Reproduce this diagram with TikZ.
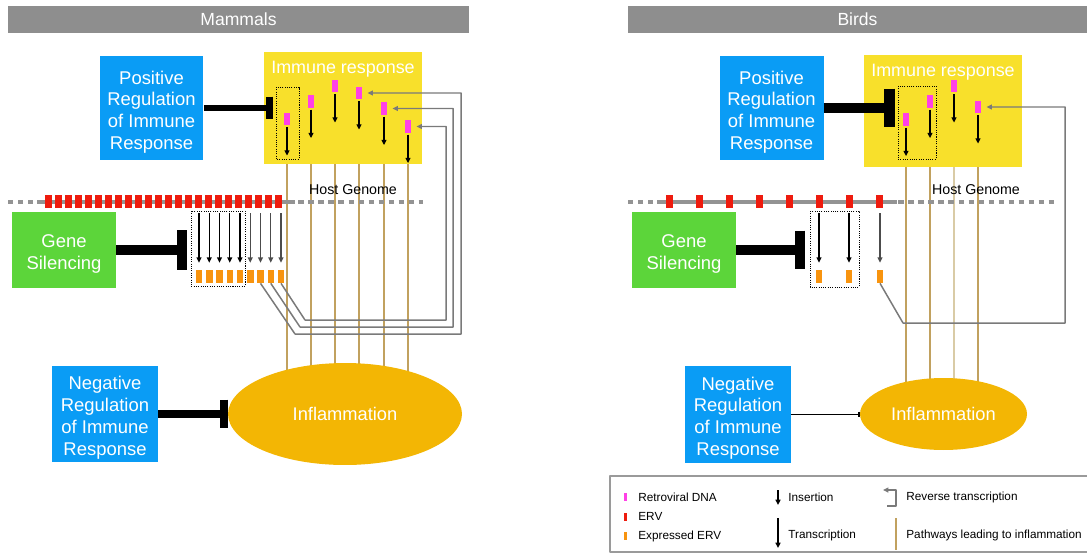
\documentclass[tikz,border=0pt]{standalone}
\usepackage{fontspec}
\setmainfont{Liberation Sans}
\usepackage{tikz}
\usetikzlibrary{arrows}
\usetikzlibrary{arrows.meta}
\usetikzlibrary{shapes.geometric}
\usetikzlibrary{backgrounds}
\usetikzlibrary{calc}

\definecolor{hdrgray}{HTML}{8E8E8E}
\definecolor{regblue}{HTML}{0A9CF5}
\definecolor{immyellow}{HTML}{F8E02B}
\definecolor{silgreen}{HTML}{5CD53A}
\definecolor{infgold}{HTML}{F3B604}
\definecolor{rvmagenta}{HTML}{FF40E6}
\definecolor{ervred}{HTML}{EE1B0E}
\definecolor{exporange}{HTML}{F8940F}
\definecolor{pathtan}{HTML}{C1A15F}
\definecolor{pathpale}{HTML}{D9CBA6}
\definecolor{rtgray}{HTML}{7A7A7A}
\definecolor{genomegray}{HTML}{939393}
\definecolor{lgdgray}{HTML}{9A9A9A}

\newcommand{\toplift}[1]{\rule{0pt}{#1}}

\begin{document}
\begin{tikzpicture}[line join=round,>={Triangle[length=3pt,width=2.8pt]},x=0.02cm,y=-0.02cm,
    hdr/.style={fill=hdrgray,text=white,inner sep=0pt,minimum height=0.54cm,font=\fontsize{10}{12}\selectfont},
    regbox/.style={fill=regblue,text=white,align=center,inner sep=0pt,minimum width=2.08cm,font=\fontsize{10.5}{12.5}\selectfont},
    silbox/.style={fill=silgreen,text=white,align=center,inner sep=0pt,minimum width=2.08cm,minimum height=1.52cm,font=\fontsize{10.5}{12.5}\selectfont},
    immbox/.style={fill=immyellow,inner sep=0pt,minimum width=3.16cm,minimum height=2.24cm},
    immtxt/.style={text=white,inner sep=0pt,font=\fontsize{10.2}{12}\selectfont},
    infl/.style={ellipse,fill=infgold,text=white,inner sep=0pt,font=\fontsize{10.4}{12}\selectfont},
    rv/.style={fill=rvmagenta,inner sep=0pt,minimum width=0.13cm,minimum height=0.25cm},
    erv/.style={fill=ervred,inner sep=0pt,minimum width=0.14cm,minimum height=0.26cm},
    xerv/.style={fill=exporange,inner sep=0pt,minimum width=0.13cm,minimum height=0.26cm},
    ins/.style={->,line width=0.75pt},
    trans/.style={->,line width=0.75pt},
    revt/.style={->,draw=rtgray,line width=0.85pt},
    pathw/.style={line width=0.85pt},
    genome/.style={draw=genomegray,line width=2.7pt},
    genomedash/.style={draw=genomegray,line width=2.7pt,dash pattern=on 3.1pt off 2.6pt},
    dotbox/.style={draw,line width=0.45pt,dash pattern=on 0.6pt off 0.7pt},
    txt/.style={inner sep=0pt,font=\fontsize{8.1}{10}\selectfont},
    lgd/.style={inner sep=0pt,anchor=west,font=\fontsize{6.7}{8}\selectfont}]
  \useasboundingbox (0,0) rectangle (1087,554);

  % headers
  \node[hdr,minimum width=9.22cm] (hdrL) at (238.5,19.5) {\raisebox{-0.4pt}{Mammals}};
  \node[hdr,minimum width=9.18cm] (hdrR) at (857.5,19.5) {\raisebox{-0.4pt}{Birds}};

  % mammals
  \node[regbox,minimum height=2.08cm] (posL) at (151.5,108) {\toplift{12.4pt}Positive\\Regulation\\of Immune\\Response};
  \node[immbox] (immL) at (343,108) {};
  \node[immtxt] (immLt) at (343,69) {Immune response};
  \draw[dotbox] (276,87) rectangle (299,159);
  \foreach \i/\x/\y in {1/287/119,2/311/101.5,3/335/86,4/359/93,5/384/108.5,6/408/126.5}{
    \node[rv] (mL\i) at (\x,\y) {};
    \draw[ins] ([yshift=-0.03cm]mL\i.south) -- ([yshift=-0.6cm]mL\i.south);
  }
  \draw[line width=3.4pt,-{Bar[width=13pt,line width=4pt]}] (posL.east) -- ([xshift=0.18cm]immL.west);

  \draw[genomedash] (8,202) -- (423,202);
  \draw[genome] (37,202) -- (295,202);
  \foreach \k in {0,...,23}
    \node[erv] (eL\k) at ({48+10*\k},201) {};
  \node[txt] (hgL) at (353,190) {Host Genome};

  \node[silbox] (silL) at (64,250) {\toplift{11.4pt}Gene\\Silencing};
  \draw[dotbox] (191,211) rectangle (245,286);
  \foreach \k in {1,...,9}{
    \node[xerv] (oL\k) at ({199+10.25*(\k-1)},276.5) {};
  }
  \foreach \k in {1,...,5}
    \draw[trans] (oL\k.north |- 0,213) -- ([yshift=0.14cm]oL\k.north);
  \foreach \k in {6,...,9}
    \draw[trans,black!70] (oL\k.north |- 0,213) -- ([yshift=0.14cm]oL\k.north);
  \draw[line width=5.7pt,-{Bar[width=22.7pt,line width=5.7pt]}] (silL.east) -- ($(silL.east)+(71,0)$);

  \draw[revt] (oL7.south) -- (295,334) -- (461,334) |- ([xshift=0.1cm]mL4.east);
  \draw[revt] (oL8.south) -- (300,327) -- (453,327) |- ([xshift=0.1cm]mL5.east);
  \draw[revt] (oL9.south) -- (305,320) -- (446,320) |- ([xshift=0.1cm]mL6.east);

  \node[regbox,minimum height=1.92cm,minimum width=2.12cm] (negL) at (105,414) {\toplift{11.8pt}Negative\\Regulation\\of Immune\\Response};
  \node[infl,minimum width=4.68cm,minimum height=2.04cm] (infL) at (345,414) {Inflammation};
  \draw[line width=4pt,-{Bar[width=16.4pt,line width=4.5pt]}] (negL.east) -- (infL.west);

  % birds
  \node[regbox,minimum height=2.08cm] (posR) at (771.5,108) {\toplift{12.4pt}Positive\\Regulation\\of Immune\\Response};
  \node[immbox] (immR) at (943,111) {};
  \node[immtxt] (immRt) at (943,72) {Immune response};
  \draw[dotbox] (898,86) rectangle (936,159);
  \foreach \i/\x/\y in {1/906/119.5,2/930/101.5,3/954/86,4/978/107}{
    \node[rv] (mR\i) at (\x,\y) {};
    \draw[ins] ([yshift=-0.03cm]mR\i.south) -- ([yshift=-0.6cm]mR\i.south);
  }
  \draw[line width=6.2pt,-{Bar[width=22pt,line width=6.2pt]}] (posR.east) -- ($(immR.west |- posR.east)+(31,0)$);

  \draw[genomedash] (628,202) -- (1058,202);
  \draw[genome] (657,202) -- (897,202);
  \foreach \k in {0,...,7}
    \node[erv] (eR\k) at ({669+30*\k},201) {};
  \node[txt] (hgR) at (976,190) {Host Genome};

  \node[silbox] (silR) at (684,250) {\toplift{11.4pt}Gene\\Silencing};
  \draw[dotbox] (810,211) rectangle (859,287);
  \foreach \k/\x in {1/819,2/849,3/880}
    \node[xerv] (oR\k) at (\x,276.5) {};
  \foreach \k in {1,2}
    \draw[trans] (oR\k.north |- 0,213) -- ([yshift=0.14cm]oR\k.north);
  \draw[trans,black!70] (oR3.north |- 0,213) -- ([yshift=0.14cm]oR3.north);
  \draw[line width=6.2pt,-{Bar[width=22pt,line width=5.7pt]}] (silR.east) -- ($(silR.east)+(69,0)$);

  \draw[revt] (oR3.south) -- (903,323) -- (1065,323) |- ([xshift=0.1cm]mR4.east);

  \node[regbox,minimum height=1.94cm,minimum width=2.12cm] (negR) at (738,414.5) {\toplift{11.8pt}Negative\\Regulation\\of Immune\\Response};
  \node[infl,minimum width=3.34cm,minimum height=1.44cm] (infR) at (943.5,414) {Inflammation};
  \draw[line width=0.6pt,-{Bar[width=3.4pt,line width=0.8pt]}] (negR.east) -- (negR.east -| infR.west);

  \begin{scope}[on background layer]
    \foreach \i in {1,...,6}
      \draw[pathw,draw=pathtan] (mL\i |- immL.south) -- (mL\i |- infL.center);
    \foreach \i/\c in {1/pathtan,2/pathtan,3/pathpale,4/pathtan}
      \draw[pathw,draw=\c] (mR\i |- immR.south) -- (mR\i |- infR.center);
  \end{scope}

  % legend
  \draw[lgdgray,line width=0.6pt] (610,476) rectangle (1100,552);
  \node[fill=rvmagenta,inner sep=0pt,minimum width=0.06cm,minimum height=0.16cm] (lgRv) at (625,497) {};
  \node[fill=ervred,inner sep=0pt,minimum width=0.06cm,minimum height=0.16cm] (lgErv) at (625,516.5) {};
  \node[fill=exporange,inner sep=0pt,minimum width=0.06cm,minimum height=0.16cm] (lgXerv) at (625,536) {};
  \node[lgd] at (638,497) {Retroviral DNA};
  \node[lgd] at (638,516.5) {ERV};
  \node[lgd] at (638,536) {Expressed ERV};
  \draw[ins] (778,490) -- (778,505);
  \node[lgd] at (788,497) {Insertion};
  \draw[trans] (778,518) -- (778,548);
  \node[lgd] at (788,535) {Transcription};
  \draw[revt,line width=0.7pt] (887,506) -- (896,506) -- (896,490) -- (883,490);
  \node[lgd] at (906,497) {Reverse transcription};
  \draw[pathw,draw=pathtan] (896,518) -- (896,550);
  \node[lgd] at (906,535) {Pathways leading to inflammation};
\end{tikzpicture}
\end{document}
